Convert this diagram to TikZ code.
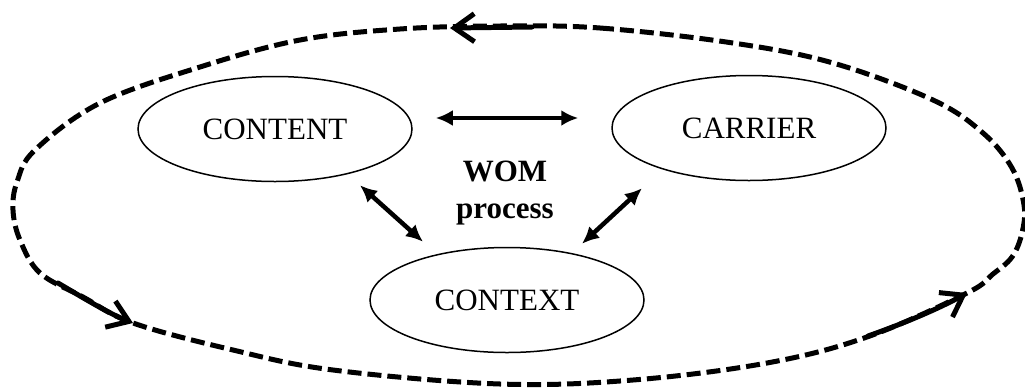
\documentclass[tikz,border=0pt]{standalone}
\usepackage{fontspec}
\setmainfont{Liberation Serif}
\usetikzlibrary{shapes.geometric,arrows.meta}
\tikzset{
  ell/.style={ellipse,draw,line width=1.5pt,minimum width=274pt,minimum height=105pt,inner sep=0pt,font=\fontsize{31}{37}\selectfont},
  loop/.style={line width=5pt,dash pattern=on 14pt off 6pt},
  looparrow/.style={line width=5pt,solid,line cap=round,-{Straight Barb[length=20pt,width=28pt,line width=5pt]}},
  link/.style={line width=4.5pt,{Latex[length=17pt,width=16pt]}-{Latex[length=17pt,width=16pt]}},
  lbl/.style={font=\fontsize{31}{37}\selectfont\bfseries,align=center}
}
\begin{document}
\begin{tikzpicture}[x=1pt,y=-1pt]
\useasboundingbox (0,0) rectangle (1025,389);
% outer loop
\draw[loop] plot[smooth cycle,tension=0.6] coordinates {
 (500,26) (600,28) (733,43) (833,63) (933,100) (983,133) (1012,168) (1024,205)
 (1022,233) (1012,257) (993,274) (967,293) (867,337) (767,363) (633,380)
 (500,384) (333,370) (233,350) (133,323) (83,297) (40,273) (20,240) (13,210)
 (17,182) (35,150) (100,103) (200,67) (300,40) (400,29)};
\coordinate (t1) at (532,27);
\coordinate (t2) at (450,28);
\coordinate (l1) at (58,283);
\coordinate (l2) at (133,323);
\coordinate (r1) at (868,336);
\coordinate (r2) at (967,293);
\draw[looparrow] (t1) -- (t2);
\draw[looparrow] (l1) .. controls (85,299) and (110,314) .. (l2);
\draw[looparrow] (r1) .. controls (905,323) and (940,308) .. (r2);
% nodes
\node[ell] (content) at (275,129) {CONTENT};
\node[ell] (carrier) at (749,128) {CARRIER};
\node[ell] (context) at (507,300) {CONTEXT};
\node[lbl] (wom) at (505,193) {WOM\\process};
% links
\draw[link] ([shift={(23pt,11pt)}]content.east) -- ([shift={(-33pt,10pt)}]carrier.west);
\draw[link] ([shift={(85pt,-3pt)}]content.south) -- ([shift={(-84pt,5pt)}]context.north);
\draw[link] ([shift={(-107pt,-7pt)}]carrier.south) -- ([shift={(75pt,3pt)}]context.north);
\end{tikzpicture}
\end{document}
